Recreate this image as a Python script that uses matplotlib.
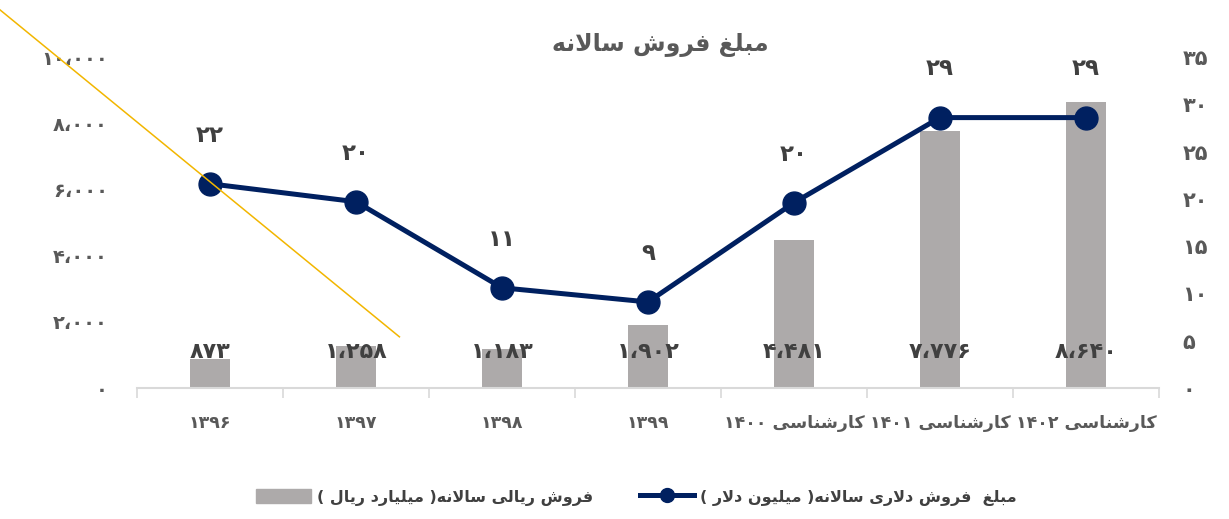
import matplotlib
matplotlib.use("Agg")
import matplotlib.pyplot as plt
from matplotlib.lines import Line2D
from matplotlib.patches import Patch
from matplotlib.ticker import FuncFormatter, FixedLocator
from matplotlib.transforms import blended_transform_factory

# data
years = ['۱۳۹۶', '۱۳۹۷', '۱۳۹۸', '۱۳۹۹',
         'کارشناسی ۱۴۰۰', 'کارشناسی ۱۴۰۱', 'کارشناسی ۱۴۰۲']
rial_sales = [873, 1258, 1183, 1902, 4481, 7776, 8640]        # billion rial
dollar_sales = [21.6, 19.7, 10.6, 9.1, 19.6, 28.6, 28.6]      # million dollar

title = 'مبلغ فروش سالانه'
bar_name = 'فروش ریالی سالانه( میلیارد ریال )'
line_name = 'مبلغ  فروش دلاری سالانه( میلیون دلار )'

BAR_C = '#ADAAAA'
LINE_C = '#002060'
TXT_C = '#404040'
TICK_C = '#595959'

# --- minimal Persian shaping (matplotlib 3.10 has no Arabic shaping / bidi)
FORMS = {
    'ا': ('\ufe8d', '\ufe8e'),
    'د': ('\ufea9', '\ufeaa'),
    'ر': ('\ufead', '\ufeae'),
    'و': ('\ufeed', '\ufeee'),
    'ب': ('\ufe8f', '\ufe90', '\ufe91', '\ufe92'),
    'س': ('\ufeb1', '\ufeb2', '\ufeb3', '\ufeb4'),
    'ش': ('\ufeb5', '\ufeb6', '\ufeb7', '\ufeb8'),
    'غ': ('\ufecd', '\ufece', '\ufecf', '\ufed0'),
    'ف': ('\ufed1', '\ufed2', '\ufed3', '\ufed4'),
    'ل': ('\ufedd', '\ufede', '\ufedf', '\ufee0'),
    'م': ('\ufee1', '\ufee2', '\ufee3', '\ufee4'),
    'ن': ('\ufee5', '\ufee6', '\ufee7', '\ufee8'),
    'ه': ('\ufee9', '\ufeea', '\ufeeb', '\ufeec'),
    'ک': ('\ufb8e', '\ufb8f', '\ufb90', '\ufb91'),
    'ی': ('\ufbfc', '\ufbfd', '\ufbfe', '\ufbff'),
}
LAM_ALEF = ('\ufefb', '\ufefc')
DIGITS = set('۰۱۲۳۴۵۶۷۸۹0123456789،,.')
MIRROR = {'(': ')', ')': '('}


def shape(s):
    out = []
    prev_joins = False
    i = 0
    while i < len(s):
        c = s[i]
        if c == 'ل' and i + 1 < len(s) and s[i + 1] == 'ا':
            out.append(LAM_ALEF[1 if prev_joins else 0])
            prev_joins = False
            i += 2
            continue
        if c in FORMS:
            f = FORMS[c]
            nxt = s[i + 1] if i + 1 < len(s) else ''
            joins_next = len(f) == 4 and nxt in FORMS
            if prev_joins and joins_next:
                g = f[3]
            elif prev_joins:
                g = f[1]
            elif joins_next:
                g = f[2]
            else:
                g = f[0]
            out.append(g)
            prev_joins = joins_next
        else:
            out.append(c)
            prev_joins = False
        i += 1
    return ''.join(out)


def fa(s):
    s = shape(s)
    runs, cur, is_num = [], '', None
    for c in s:
        n = c in DIGITS
        if cur and n != is_num:
            runs.append((cur, is_num))
            cur = ''
        cur += c
        is_num = n
    if cur:
        runs.append((cur, is_num))
    vis = []
    for text, num in reversed(runs):
        vis.append(text if num else ''.join(MIRROR.get(c, c) for c in reversed(text)))
    return ''.join(vis)


def fa_num(v):
    return f"{v:,.0f}".translate(str.maketrans('0123456789,', '۰۱۲۳۴۵۶۷۸۹،'))


plt.rcParams['font.family'] = ['DejaVu Sans']
plt.rcParams['font.weight'] = 'bold'

fig = plt.figure(figsize=(12.29, 5.19), dpi=100)
ax = fig.add_axes([0.1115, 0.2524, 0.8315, 0.6376])
ax2 = ax.twinx()

x = list(range(len(years)))
ax.bar(x, rial_sales, width=0.27, color=BAR_C, zorder=2)
ax.set_xlim(-0.5, len(years) - 0.5)
ax.set_ylim(0, 10000)
ax.yaxis.set_major_locator(FixedLocator(range(0, 10001, 2000)))
ax.yaxis.set_major_formatter(FuncFormatter(lambda v, p: fa_num(v)))

ax.set_xticks(x)
ax.set_xticklabels([fa(y) for y in years])
ax.set_xticks([i - 0.5 for i in range(len(years) + 1)], minor=True)
ax.tick_params(axis='x', which='major', length=0, pad=19, labelsize=12.5, labelcolor=TICK_C)
ax.tick_params(axis='x', which='minor', length=7, width=1.2, color='#D9D9D9')
ax.tick_params(axis='y', length=0, pad=21, labelsize=14, labelcolor=TICK_C)

for sp in ['top', 'right', 'left']:
    ax.spines[sp].set_visible(False)
    ax2.spines[sp].set_visible(False)
ax2.spines['bottom'].set_visible(False)
ax.spines['bottom'].set_color('#D9D9D9')
ax.spines['bottom'].set_linewidth(1.5)

# bar value labels, all at the same height near the base
trans = blended_transform_factory(ax.transData, ax.transAxes)
for xi, v in zip(x, rial_sales):
    ax.text(xi, 0.108, fa_num(v), transform=trans, ha='center', va='center',
            fontsize=16, color=TXT_C, zorder=5)

# dollar line on right axis
ax2.plot(x, dollar_sales, color=LINE_C, lw=3.6, marker='o', ms=16.5, zorder=4)
ax2.set_ylim(0, 35)
ax2.yaxis.set_major_locator(FixedLocator(range(0, 36, 5)))
ax2.yaxis.set_major_formatter(FuncFormatter(lambda v, p: fa_num(v)))
ax2.tick_params(axis='y', length=0, pad=17, labelsize=15, labelcolor=TICK_C)
for tl in ax2.get_yticklabels():
    tl.set_ha('left')

for xi, v in zip(x, dollar_sales):
    ax2.annotate(fa_num(v), (xi, v), xytext=(0, 35), textcoords='offset points',
                 ha='center', va='center', fontsize=16.5, color=TXT_C)

fig.text(0.537, 0.913, fa(title), ha='center', va='center', fontsize=17, color=TICK_C)

# stray diagonal line from the original image
fig.add_artist(Line2D([0.0, 0.325], [0.981, 0.351], color='#F2B600', lw=1.1))

handles = [Patch(color=BAR_C),
           Line2D([], [], color=LINE_C, lw=3.6, marker='o', ms=10)]
leg = fig.legend(handles, [fa(bar_name), fa(line_name)], ncol=2,
                 loc='center', bbox_to_anchor=(0.518, 0.042), frameon=False,
                 fontsize=11.5, handlelength=3.4, handleheight=1.0,
                 columnspacing=2.9, handletextpad=0.4)
for t in leg.get_texts():
    t.set_color(TXT_C)

fig.savefig('out.png', dpi=100)
